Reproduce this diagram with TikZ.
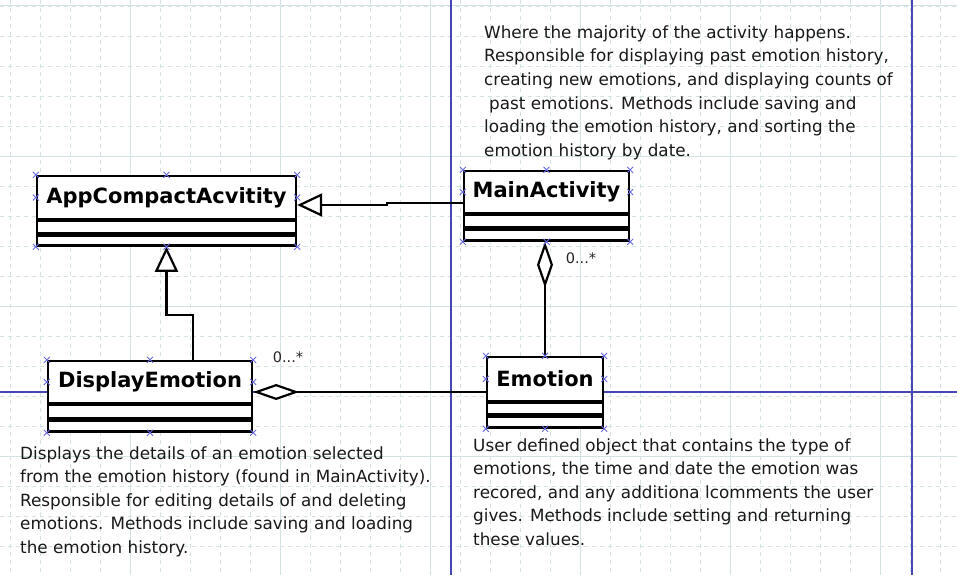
\documentclass[tikz,border=0pt]{standalone}
\usepackage{fontspec}
\setmainfont{DejaVu Sans}
\usetikzlibrary{arrows.meta,positioning}
\definecolor{gridline}{HTML}{D3E2E2}
\definecolor{guideblue}{HTML}{4646B4}
\definecolor{handleblue}{HTML}{6868E0}

\tikzset{
  namebox/.style={draw,line width=2.3pt,fill=white,inner sep=0pt,
    font=\fontsize{21}{21}\selectfont\bfseries},
  compbox/.style={draw,line width=2.3pt,fill=white,inner sep=0pt},
  notetext/.style={align=left,inner sep=0pt,anchor=base west,
    font=\fontsize{16.8}{23.5}\selectfont,text=black!90},
  multlabel/.style={font=\fontsize{14.5}{14.5}\selectfont,text=black!85},
  genline/.style={line width=2.2pt,
    -{Triangle[fill=white,length=25pt,width=23pt,line width=2.2pt]}},
  aggline/.style={line width=2.2pt,
    -{Diamond[fill=white,length=46pt,width=16pt,line width=2.2pt]}},
  handle/.style={handleblue,line width=0.9pt},
}

\begin{document}
\begin{tikzpicture}[x=1pt,y=-1pt]
    \useasboundingbox (0,0) rectangle (957,575);
    \fill[white] (0,0) rectangle (957,575);

    % grid
    \foreach \x in {10,40,...,950}
        \draw[gridline,dashed,dash pattern=on 4pt off 4pt] (\x,0) -- (\x,575);
    \foreach \y in {6,36,...,575}
        \draw[gridline,dashed,dash pattern=on 4pt off 4pt] (0,\y) -- (957,\y);
    \foreach \x in {130,280,...,950}
        \draw[gridline,line width=1pt] (\x,0) -- (\x,575);
    \foreach \y in {6,156,...,575}
        \draw[gridline,line width=1pt] (0,\y) -- (957,\y);

    % page guides
    \draw[guideblue,line width=1.5pt] (451,0) -- (451,575);
    \draw[guideblue,line width=1.5pt] (912,0) -- (912,575);
    \draw[guideblue,line width=1.5pt] (0,392) -- (957,392);

    % classes
    \node[namebox,minimum width=259pt,minimum height=43pt] (app) at (166.5,197.5) {AppCompactAcvitity};
    \node[compbox,minimum width=259pt,minimum height=12pt,below=0pt of app] (appa) {};
    \node[compbox,minimum width=259pt,minimum height=10pt,below=0pt of appa] (appo) {};

    \node[namebox,minimum width=165pt,minimum height=42pt] (main) at (546.5,192) {MainActivity};
    \node[compbox,minimum width=165pt,minimum height=12pt,below=0pt of main] (maina) {};
    \node[compbox,minimum width=165pt,minimum height=11pt,below=0pt of maina] (maino) {};

    \node[namebox,minimum width=204pt,minimum height=42pt] (disp) at (150,382) {DisplayEmotion};
    \node[compbox,minimum width=204pt,minimum height=13pt,below=0pt of disp] (dispa) {};
    \node[compbox,minimum width=204pt,minimum height=11pt,below=0pt of dispa] (dispo) {};

    \node[namebox,minimum width=116pt,minimum height=44pt] (emo) at (545,379) {Emotion};
    \node[compbox,minimum width=116pt,minimum height=11pt,below=0pt of emo] (emoa) {};
    \node[compbox,minimum width=116pt,minimum height=11pt,below=0pt of emoa] (emoo) {};

    % generalizations
    \draw[genline] ([yshift=-11pt]main.west) -- ++(-76,0) -- ++(0,2) -- ([yshift=-7.5pt]app.east);
    \draw[genline] ([xshift=43pt]disp.north) -- ++(0,-45) -| (appo.south);

    % aggregations
    \draw[aggline] (emo.north) -- (emo.north |- maino.south);
    \draw[aggline] ([yshift=-13pt]emo.west) -- ([yshift=-10pt]disp.east);
    \node[multlabel] (multmain) at (581,258) {0...*};
    \node[multlabel] (multdisp) at (288,357) {0...*};

    % selection handles
    \foreach \n in {app,main,disp,emo} {
        \foreach \a in {north west,north,north east,west,east}
            \draw[handle] (\n.\a) +(-3,-3) -- +(3,3) +(-3,3) -- +(3,-3);
        \foreach \a in {south west,south,south east}
            \draw[handle] (\n o.\a) +(-3,-3) -- +(3,3) +(-3,3) -- +(3,-3);
    }

    % notes (anchored at the baseline of their last line)
    \node[notetext] (mainnote) at (484,156) {Where the majority of the activity happens.\\
        Responsible for displaying past emotion history,\\
        creating new emotions, and displaying counts of\\
        \hspace*{5pt}past emotions. Methods include saving and\\
        loading the emotion history, and sorting the\\
        emotion history by date.};
    \node[notetext] (dispnote) at (20,553) {Displays the details of an emotion selected\\
        from the emotion history (found in MainActivity).\\
        Responsible for editing details of and deleting\\
        emotions. Methods include saving and loading\\
        the emotion history.};
    \node[notetext] (emonote) at (473,545) {User defined object that contains the type of\\
        emotions, the time and date the emotion was\\
        recored, and any additiona lcomments the user\\
        gives. Methods include setting and returning\\
        these values.};
\end{tikzpicture}
\end{document}
